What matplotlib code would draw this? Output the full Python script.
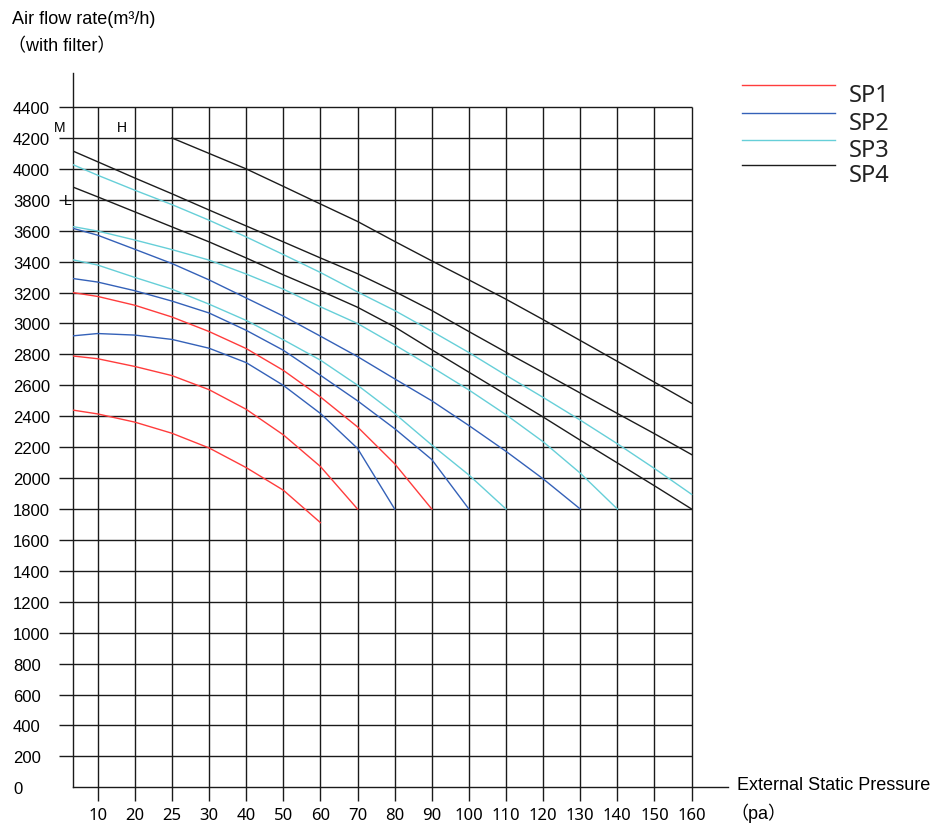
import matplotlib.pyplot as plt
import numpy as np
from matplotlib.lines import Line2D

# gridlines are evenly spaced but labelled 10,20,25,30,40...160
x_ticks = [10, 20, 25, 30, 40, 50, 60, 70, 80, 90, 100, 110, 120, 130, 140, 150, 160]
y_ticks = list(range(0, 4401, 200))

# pressure points (Pa) where the curves were read, 0 = left axis
p_all = [0, 10, 20, 25, 30, 40, 50, 60, 70, 80, 90, 100, 110, 120, 130, 140, 150, 160]

# SP1 (red)
sp1_hi = [3200, 3175, 3118, 3042, 2948, 2838, 2697, 2525, 2331, 2093, 1800]
sp1_mid = [2790, 2772, 2722, 2663, 2572, 2445, 2280, 2075, 1800]
sp1_lo = [2440, 2415, 2362, 2290, 2195, 2068, 1922, 1712]
# SP2 (blue)
sp2_hi = [3616, 3571, 3480, 3388, 3282, 3165, 3048, 2918, 2786, 2642, 2500, 2340, 2173, 1995, 1800]
sp2_mid = [3291, 3268, 3212, 3145, 3068, 2956, 2827, 2665, 2500, 2320, 2120, 1800]
sp2_lo = [2920, 2935, 2925, 2897, 2840, 2747, 2600, 2418, 2192, 1800]
# SP3 (cyan)
sp3_hi = [4028, 3959, 3862, 3769, 3668, 3560, 3446, 3330, 3204, 3084, 2950, 2812, 2665, 2522, 2375, 2222, 2062, 1895]
sp3_mid = [3627, 3598, 3540, 3478, 3410, 3320, 3222, 3108, 3000, 2862, 2718, 2570, 2410, 2235, 2032, 1800]
sp3_lo = [3412, 3378, 3298, 3222, 3125, 3020, 2895, 2763, 2601, 2418, 2214, 2020, 1800]
# SP4 (black), top one starts at 25 Pa
sp4_hi = [4200, 4100, 4000, 3887, 3773, 3660, 3531, 3405, 3282, 3157, 3025, 2890, 2755, 2620, 2484]
sp4_mid = [4116, 4046, 3941, 3839, 3734, 3631, 3528, 3424, 3322, 3207, 3084, 2948, 2814, 2683, 2550, 2418, 2287, 2152]
sp4_lo = [3883, 3819, 3722, 3625, 3528, 3424, 3315, 3212, 3105, 2978, 2830, 2685, 2540, 2395, 2245, 2098, 1950, 1800]

names = ['SP1', 'SP2', 'SP3', 'SP4']
colors = ['#ff3c3c', '#3461b8', '#66cfd8', '#1c1c1c']
series = [[sp1_hi, sp1_mid, sp1_lo], [sp2_hi, sp2_mid, sp2_lo],
          [sp3_hi, sp3_mid, sp3_lo], [sp4_hi, sp4_mid, sp4_lo]]

# map pressure -> gridline index so the labelled gridlines are evenly spaced
pos_p = [0] + x_ticks + [170]
pos_i = [-0.673] + list(range(len(x_ticks))) + [16.98]

def fwd(x):
    return np.interp(x, pos_p, pos_i)

def inv(i):
    return np.interp(i, pos_i, pos_p)

grid_c = '#1a1a1a'
fig = plt.figure(figsize=(9.32, 8.29), dpi=100)
ax = fig.add_axes([0.078, 0.0491, 0.7031, 0.8616])
ax.set_xscale('function', functions=(fwd, inv))
ax.set_xlim(0, 170)
ax.set_ylim(0, 4620)

ax.vlines(x_ticks, 0, 4400, color=grid_c, lw=1.0, zorder=1)
ax.hlines(y_ticks[1:], 0, 160, color=grid_c, lw=1.0, zorder=1)

for col, group in zip(colors, series):
    for ys in group:
        if ys is sp4_hi:
            xs = p_all[3:3 + len(ys)]
        else:
            xs = p_all[:len(ys)]
        ax.plot(xs, ys, color=col, lw=1.0, zorder=3)

for s in ['top', 'right']:
    ax.spines[s].set_visible(False)
for s in ['left', 'bottom']:
    ax.spines[s].set_color(grid_c)
    ax.spines[s].set_linewidth(1.0)

ax.set_xticks(x_ticks)
ax.set_xticklabels([str(v) for v in x_ticks], fontfamily='Noto Sans', fontsize=12)
ax.set_yticks(y_ticks)
ax.set_yticklabels([str(v) for v in y_ticks], fontfamily='Liberation Sans', fontsize=12)
ax.tick_params(direction='out', length=10, width=1.0, color=grid_c)
ax.tick_params(axis='x', pad=4)
ax.tick_params(axis='y', pad=33)
for lab in ax.get_yticklabels():
    lab.set_ha('left')
ax.yaxis.get_major_ticks()[0].tick1line.set_visible(False)

# speed markers
ax.text(-0.02, 4272, 'M', transform=ax.get_yaxis_transform(), ha='center', va='center',
        fontsize=10, family='Liberation Sans', clip_on=False)
ax.text(16.5, 4268, 'H', ha='center', va='center', fontsize=10, family='Liberation Sans')
ax.text(-0.007, 3800, 'L', transform=ax.get_yaxis_transform(), ha='center', va='center',
        fontsize=10, family='Liberation Sans', clip_on=False)

# axis titles
fam = ['Liberation Sans', 'Noto Sans CJK SC']
fig.text(12 / 932, 1 - 20 / 829, 'Air flow rate(m³/h)', ha='left', va='center', fontsize=13, family=fam)
fig.text(8 / 932, 1 - 47 / 829, '（with filter）', ha='left', va='center', fontsize=13, family=fam)
fig.text(737 / 932, 1 - 786 / 829, 'External Static Pressure', ha='left', va='center', fontsize=13, family=fam)
fig.text(730 / 932, 1 - 813 / 829, '（pa）', ha='left', va='center', fontsize=13, family=fam)

# legend
leg_y = [86, 114, 141, 166]
for name, col, yy in zip(names, colors, leg_y):
    fy = 1 - yy / 829
    fig.add_artist(Line2D([742 / 932, 835 / 932], [fy, fy], color=col, lw=1.0))
    fig.text(849 / 932, fy + 0.002, name, ha='left', va='top', fontsize=17, family='Noto Sans', color='#222222')

fig.savefig('out.png', dpi=100)
